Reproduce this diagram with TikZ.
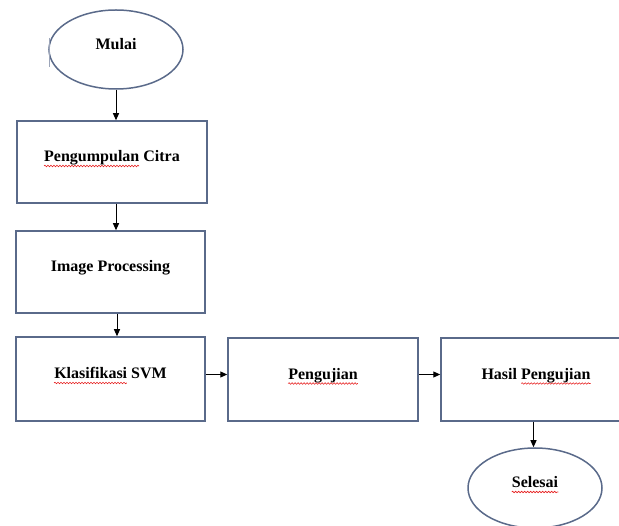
\documentclass[tikz,border=0pt]{standalone}
\usepackage{fontspec}
\setmainfont{Liberation Serif}
\usetikzlibrary{shapes.geometric,arrows.meta,decorations.pathmorphing}
\definecolor{edgeblue}{RGB}{90,106,138}
\definecolor{squig}{RGB}{230,30,30}
\newlength\wPeng
\newlength\wKlas
\newlength\wUji
\newcommand\lblfont{\fontsize{16}{18}\selectfont\bfseries}
\begin{document}
\settowidth{\wPeng}{\lblfont Pengumpulan}%
\settowidth{\wKlas}{\lblfont Klasifikasi}%
\settowidth{\wUji}{\lblfont Pengujian}%
\begin{tikzpicture}[x=1pt,y=-1pt,
  lbl/.style={font=\lblfont, inner sep=0pt, anchor=base},
  stepbox/.style={draw=edgeblue, line width=1.5pt, rectangle, minimum height=82pt, inner sep=0pt},
  oval/.style={draw=edgeblue, line width=1.5pt, ellipse, minimum width=134pt, minimum height=79pt, inner sep=0pt},
  flow/.style={draw=black, line width=1pt, -{Triangle[length=7pt,width=6pt]}},
  wave/.style={draw=squig, line width=0.6pt, decorate, decoration={snake, segment length=3pt, amplitude=0.8pt}}]
\useasboundingbox (0,0) rectangle (619,526);
\clip (0,0) rectangle (619,526);
% shapes
\node[oval] (mulai) at (116,49.5) {};
\node[stepbox, minimum width=190pt] (b1) at (112,162) {};
\node[stepbox, minimum width=189pt] (b2) at (110.5,272) {};
\node[stepbox, minimum width=189pt, minimum height=84pt] (b3) at (110.5,379) {};
\node[stepbox, minimum width=190pt, minimum height=83pt] (b4) at (323,379.5) {};
\node[stepbox, minimum width=190pt, minimum height=83pt] (b5) at (536,379.5) {};
\node[oval, minimum height=80pt] (selesai) at (535,488) {};
% labels
\node[lbl] (t0) at (mulai.center) {Mulai};
\node[lbl] (t1) at (b1.center) {Pengumpulan Citra};
\node[lbl] (t2) at (b2.center) {Image Processing};
\node[lbl] (t3) at (b3.center) {Klasifikasi SVM};
\node[lbl] (t4) at (b4.center) {Pengujian};
\node[lbl] (t5) at (b5.center) {Hasil Pengujian};
\node[lbl] (t6) at (selesai.center) {Selesai};
% spelling marks
\draw[wave] ([yshift=-4pt]t1.base west) -- ([xshift=\wPeng,yshift=-4pt]t1.base west);
\draw[wave] ([yshift=-4pt]t3.base west) -- ([xshift=\wKlas,yshift=-4pt]t3.base west);
\draw[wave] ([yshift=-4pt]t4.base west) -- ([yshift=-4pt]t4.base east);
\draw[wave] ([xshift=-\wUji,yshift=-4pt]t5.base east) -- ([yshift=-4pt]t5.base east);
\draw[wave] ([yshift=-4pt]t6.base west) -- ([yshift=-4pt]t6.base east);
% stray tick at left of start oval
\coordinate (tick) at (49,38);
\draw[edgeblue!60, line width=1pt] (tick) -- ++(0,29);
% connectors
\draw[flow] (mulai.south) -- (mulai.south |- b1.north);
\draw[flow] ([xshift=4pt]b1.south) -- ([xshift=4pt]b1.south |- b2.north);
\draw[flow] ([xshift=6.5pt]b2.south) -- ([xshift=6.5pt]b2.south |- b3.north);
\draw[flow] ([yshift=4.5pt]b3.east) -- ([yshift=4.5pt]b3.east -| b4.west);
\draw[flow] ([yshift=5pt]b4.east) -- ([yshift=5pt]b4.east -| b5.west);
\draw[flow] ([xshift=-2.5pt]b5.south) -- ([xshift=-2.5pt]b5.south |- selesai.north);
\end{tikzpicture}
\end{document}
